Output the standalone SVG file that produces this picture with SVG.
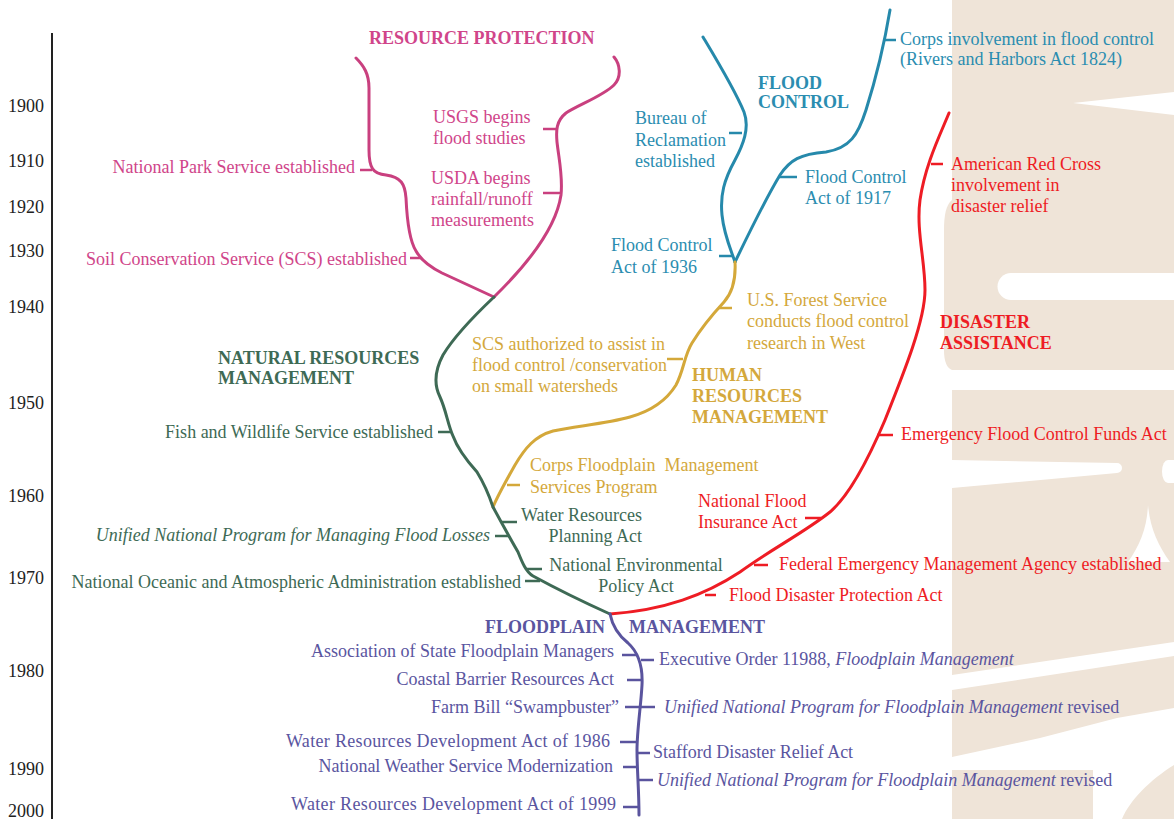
<svg xmlns="http://www.w3.org/2000/svg" width="1174" height="819" viewBox="0 0 1174 819">
<style>
text{font-family:"Liberation Serif","Times New Roman",serif;font-size:18px}
.b{font-weight:bold}
.i{font-style:italic}
.e{text-anchor:end}
.m{text-anchor:middle}
.yr{fill:#222}
.pk{fill:#d0458a}.pkS{stroke:#c9407f}
.tl{fill:#2b8db0}.tlS{stroke:#2689ab}
.rd{fill:#ee1c24}.rdS{stroke:#ee1c24}
.gd{fill:#d4a83c}.gdS{stroke:#d4a83a}
.gn{fill:#3e6a55}.gnS{stroke:#3e6a55}
.pu{fill:#5a559f}.puS{stroke:#5a549e}
.br{fill:none;stroke-width:3;stroke-linecap:round;stroke-linejoin:round}
.tk{fill:none;stroke-width:2.5}
.wm{fill:#efe4d8}
.wh{fill:#ffffff}
</style>
<rect width="1174" height="819" fill="#ffffff"/>
<g id="watermark">
<rect class="wm" x="952" y="0" width="222" height="819"/>
<path class="wm" d="M952,200 C946,205 944,215 944,230 L944,350 C944,362 947,368 952,370 Z"/>
<polygon class="wh" points="1073,103 1174,92 1174,115"/>
<path class="wh" d="M1011,273 L1174,273 L1174,300 L1011,300 A13.5,13.5 0 0 1 1011,273 Z"/>
<rect class="wh" x="944" y="370" width="230" height="20"/>
<path class="wh" d="M952,460 L1117,463 A5,5 0 0 1 1117,473 L952,488 Z"/>
<path class="wh" d="M1174,460 L1168,460 A6,11.5 0 0 0 1168,483 L1174,483 Z"/>
<path class="wh" d="M1148,505 C1147,528 1140,545 1128,562 L1170,562 C1158,545 1150,528 1148,505 Z"/>
<polygon class="wh" points="952,675 1174,642 1174,656 952,690"/>
<path class="wh" d="M952,757 L1040,738 L1117,718 L1174,708 L1174,765 C1150,780 1130,800 1122,819 L1093,819 L1093,770 L952,770 Z"/>
</g>
<g id="axis">
<line x1="52" y1="33" x2="52" y2="819" stroke="#222" stroke-width="2"/>
<text class="yr" x="8" y="112">1900</text>
<text class="yr" x="8" y="167">1910</text>
<text class="yr" x="8" y="213">1920</text>
<text class="yr" x="8" y="257">1930</text>
<text class="yr" x="8" y="313">1940</text>
<text class="yr" x="8" y="409">1950</text>
<text class="yr" x="8" y="502">1960</text>
<text class="yr" x="8" y="584">1970</text>
<text class="yr" x="8" y="677">1980</text>
<text class="yr" x="8" y="775">1990</text>
<text class="yr" x="8" y="817">2000</text>
</g>
<g id="connectors">
<path class="br pkS" d="M356,58 C364,66 369,74 369,88 L369,150 C369,168 373,174 386,175 C401,177 405,184 406,198 C407,220 409,240 416,251 C421,260 428,266 442,273 L494,297"/>
<path class="br pkS" d="M614,57 C620,64 622,77 614,85 C603,96 578,105 566,113 C556,121 556,131 557,142 C559,160 563,176 561,195 C557,222 536,256 494,297"/>
<path class="br tlS" d="M703,37 C718,62 735,90 744,112 C750,128 743,145 735,160 C724,180 720,195 722,215 C724,235 731,250 735,262"/>
<path class="br tlS" d="M890,10 C885,40 877,75 866,110 C858,135 850,148 826,152 C800,154 790,160 780,175 C765,200 748,235 735,262"/>
<path class="br rdS" d="M949,113 C940,135 925,165 920,200 C916,230 925,260 925,290 C925,320 905,370 885,420 C868,460 850,495 830,512 C805,532 770,550 740,572 C705,595 665,610 610,614"/>
<path class="br gdS" d="M735,262 C736,280 733,292 724,302 C712,315 700,330 692,343 C684,356 684,370 676,385 C668,398 655,410 630,417 C605,424 575,426 553,431 C535,436 525,448 515,465 C506,481 498,495 493,507"/>
<path class="br gnS" d="M494,297 C475,315 455,335 443,355 C435,370 434,385 440,397 C446,410 448,425 453,436 C458,450 468,462 477,472 C485,485 490,498 493,507 C500,520 510,538 518,552 C522,562 526,572 533,576 C555,588 590,605 610,614"/>
<path class="br puS" d="M610,614 C612,624 618,635 628,643 C638,652 643,665 642,685 C641,705 637,730 637,750 C637,770 639,790 639,815"/>
</g>
<g id="resource-protection">
<text class="pk b" x="369" y="44">RESOURCE PROTECTION</text>
</g>
<g id="n-nps">
<line class="tk pkS" x1="360" y1="170" x2="372" y2="170"/>
<text class="pk e" x="355" y="173">National Park Service established</text>
</g>
<g id="n-scs">
<line class="tk pkS" x1="410" y1="258" x2="421" y2="258"/>
<text class="pk e" x="407" y="265">Soil Conservation Service (SCS) established</text>
</g>
<g id="n-usgs">
<line class="tk pkS" x1="543" y1="129" x2="557" y2="129"/>
<text class="pk" x="433" y="123">USGS begins</text>
<text class="pk" x="433" y="144">flood studies</text>
</g>
<g id="n-usda">
<line class="tk pkS" x1="543" y1="193" x2="561" y2="193"/>
<text class="pk" x="431" y="184">USDA begins</text>
<text class="pk" x="431" y="205">rainfall/runoff</text>
<text class="pk" x="431" y="226">measurements</text>
</g>
<g id="flood-control">
<text class="tl b" x="758" y="89">FLOOD</text>
<text class="tl b" x="758" y="108">CONTROL</text>
</g>
<g id="n-corps">
<line class="tk tlS" x1="884" y1="40" x2="896" y2="40"/>
<text class="tl" x="900" y="45">Corps involvement in flood control</text>
<text class="tl" x="900" y="65">(Rivers and Harbors Act 1824)</text>
</g>
<g id="n-bor">
<line class="tk tlS" x1="729" y1="133" x2="742" y2="133"/>
<text class="tl" x="635" y="124">Bureau of</text>
<text class="tl" x="635" y="146">Reclamation</text>
<text class="tl" x="635" y="167">established</text>
</g>
<g id="n-fca1917">
<line class="tk tlS" x1="779" y1="177" x2="797" y2="177"/>
<text class="tl" x="805" y="183">Flood Control</text>
<text class="tl" x="805" y="204">Act of 1917</text>
</g>
<g id="n-fca1936">
<line class="tk tlS" x1="719" y1="256" x2="734" y2="256"/>
<text class="tl" x="611" y="251">Flood Control</text>
<text class="tl" x="611" y="273">Act of 1936</text>
</g>
<g id="disaster-assistance">
<text class="rd b" x="940" y="328">DISASTER</text>
<text class="rd b" x="940" y="349">ASSISTANCE</text>
</g>
<g id="n-arc">
<line class="tk rdS" x1="931" y1="164" x2="943" y2="164"/>
<text class="rd" x="951" y="170">American Red Cross</text>
<text class="rd" x="951" y="191">involvement in</text>
<text class="rd" x="951" y="212">disaster relief</text>
</g>
<g id="n-efcf">
<line class="tk rdS" x1="877" y1="435" x2="893" y2="435"/>
<text class="rd" x="901" y="440">Emergency Flood Control Funds Act</text>
</g>
<g id="n-nfia">
<line class="tk rdS" x1="805" y1="518" x2="821" y2="518"/>
<text class="rd" x="698" y="507">National Flood</text>
<text class="rd" x="698" y="528">Insurance Act</text>
</g>
<g id="n-fema">
<line class="tk rdS" x1="754" y1="565" x2="768" y2="565"/>
<text class="rd" x="779" y="570">Federal Emergency Management Agency established</text>
</g>
<g id="n-fdpa">
<line class="tk rdS" x1="705" y1="595" x2="716" y2="595"/>
<text class="rd" x="729" y="601">Flood Disaster Protection Act</text>
</g>
<g id="human-resources">
<text class="gd b" x="692" y="381">HUMAN</text>
<text class="gd b" x="692" y="402">RESOURCES</text>
<text class="gd b" x="692" y="423">MANAGEMENT</text>
</g>
<g id="n-usfs">
<line class="tk gdS" x1="718" y1="308" x2="732" y2="308"/>
<text class="gd" x="747" y="306">U.S. Forest Service</text>
<text class="gd" x="747" y="327">conducts flood control</text>
<text class="gd" x="747" y="349">research in West</text>
</g>
<g id="n-scsauth">
<line class="tk gdS" x1="667" y1="359" x2="683" y2="359"/>
<text class="gd" x="472" y="350">SCS authorized to assist in</text>
<text class="gd" x="472" y="371">flood control /conservation</text>
<text class="gd" x="472" y="392">on small watersheds</text>
</g>
<g id="n-corpsfp">
<line class="tk gdS" x1="507" y1="485" x2="520" y2="485"/>
<text class="gd" x="530" y="471" xml:space="preserve">Corps Floodplain  Management</text>
<text class="gd" x="530" y="493">Services Program</text>
</g>
<g id="natural-resources">
<text class="gn b" x="218" y="364">NATURAL RESOURCES</text>
<text class="gn b" x="218" y="384">MANAGEMENT</text>
</g>
<g id="n-fws">
<line class="tk gnS" x1="438" y1="432" x2="452" y2="432"/>
<text class="gn e" x="433" y="438">Fish and Wildlife Service established</text>
</g>
<g id="n-wrpa">
<line class="tk gnS" x1="501" y1="522" x2="517" y2="522"/>
<text class="gn e" x="642" y="521">Water Resources</text>
<text class="gn e" x="642" y="542">Planning Act</text>
</g>
<g id="n-unp">
<line class="tk gnS" x1="495" y1="536" x2="509" y2="536"/>
<text class="gn e i" x="490" y="541">Unified National Program for Managing Flood Losses</text>
</g>
<g id="n-nepa">
<line class="tk gnS" x1="527" y1="569" x2="542" y2="569"/>
<text class="gn m" x="636" y="571">National Environmental</text>
<text class="gn m" x="636" y="592">Policy Act</text>
</g>
<g id="n-noaa">
<line class="tk gnS" x1="525" y1="581" x2="540" y2="581"/>
<text class="gn e" x="521" y="588">National Oceanic and Atmospheric Administration established</text>
</g>
<g id="floodplain-management">
<text class="pu b e" x="605" y="633">FLOODPLAIN</text>
<text class="pu b" x="629" y="633">MANAGEMENT</text>
</g>
<g id="n-asfm">
<line class="tk puS" x1="622" y1="655" x2="637" y2="655"/>
<text class="pu e" x="614" y="657">Association of State Floodplain Managers</text>
</g>
<g id="n-eo">
<line class="tk puS" x1="641" y1="660" x2="654" y2="660"/>
<text class="pu" x="659" y="665">Executive Order 11988, <tspan class="i">Floodplain Management</tspan></text>
</g>
<g id="n-cbra">
<line class="tk puS" x1="627" y1="680" x2="643" y2="680"/>
<text class="pu e" x="614" y="685">Coastal Barrier Resources Act</text>
</g>
<g id="n-farm">
<line class="tk puS" x1="625" y1="707" x2="641" y2="707"/>
<text class="pu e" x="619" y="713">Farm Bill “Swampbuster”</text>
</g>
<g id="n-unpfm1">
<line class="tk puS" x1="641" y1="707" x2="655" y2="707"/>
<text class="pu" x="664" y="713"><tspan class="i">Unified National Program for Floodplain Management</tspan> revised</text>
</g>
<g id="n-wrda86">
<line class="tk puS" x1="620" y1="742" x2="637" y2="742"/>
<text class="pu" x="286" y="747" textLength="324" lengthAdjust="spacing">Water Resources Development Act of 1986</text>
</g>
<g id="n-stafford">
<line class="tk puS" x1="637" y1="753" x2="650" y2="753"/>
<text class="pu" x="653" y="758">Stafford Disaster Relief Act</text>
</g>
<g id="n-nws">
<line class="tk puS" x1="623" y1="767" x2="638" y2="767"/>
<text class="pu e" x="613" y="772">National Weather Service Modernization</text>
</g>
<g id="n-unpfm2">
<line class="tk puS" x1="638" y1="780" x2="653" y2="780"/>
<text class="pu" x="657" y="786"><tspan class="i">Unified National Program for Floodplain Management</tspan> revised</text>
</g>
<g id="n-wrda99">
<line class="tk puS" x1="623" y1="807" x2="639" y2="807"/>
<text class="pu" x="291" y="810" textLength="325" lengthAdjust="spacing">Water Resources Development Act of 1999</text>
</g>
</svg>
